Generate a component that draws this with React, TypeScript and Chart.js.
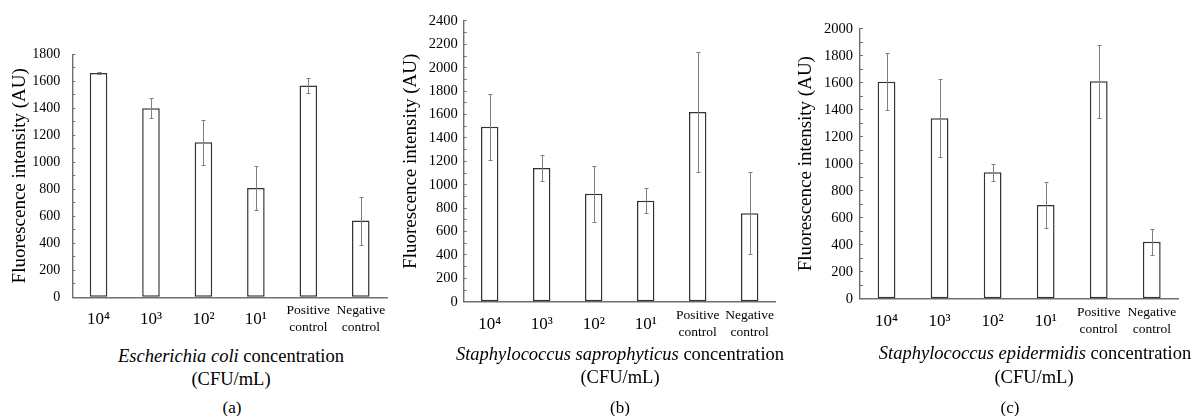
import React, { useEffect, useRef } from 'react';
import { Chart, registerables } from 'chart.js';

Chart.register(...registerables);

// ---------- data ----------
const categories: (string | string[])[] = ['10⁴', '10³', '10²', '10¹', ['Positive', 'control'], ['Negative', 'control']];

const ecoliValues = [1662, 1400, 1148, 810, 1568, 568];
const ecoliErrors = [8, 75, 168, 163, 53, 177];

const saproValues = [1496, 1142, 923, 863, 1621, 755];
const saproErrors = [282, 112, 241, 108, 511, 350];

const epiValues = [1607, 1336, 936, 694, 1610, 422];
const epiErrors = [211, 288, 64, 168, 269, 98];

const yMaxA = 1800;
const yMaxB = 2400;
const yMaxC = 2000;
const yTickStep = 100;
const yLabelStep = 200;

const yTitle = 'Fluorescence intensity (AU)';

const FONT = "'Liberation Serif', 'DejaVu Serif', 'Times New Roman', serif";

// ---------- plugins ----------
const errorBarPlugin = {
  id: 'errorBars',
  afterDatasetsDraw(chart: any, _args: any, opts: any) {
    const errs: number[] = opts.errors || [];
    const ctx = chart.ctx;
    const y = chart.scales.y;
    const meta = chart.getDatasetMeta(0);
    const vals = chart.data.datasets[0].data as number[];
    ctx.save();
    ctx.strokeStyle = opts.color || '#8a8a8a';
    ctx.lineWidth = 1;
    meta.data.forEach((bar: any, i: number) => {
      const x = Math.round(bar.x) + 0.5;
      const top = Math.round(y.getPixelForValue(vals[i] + errs[i])) + 0.5;
      const bot = Math.round(y.getPixelForValue(vals[i] - errs[i])) + 0.5;
      ctx.beginPath();
      ctx.moveTo(x, top);
      ctx.lineTo(x, bot);
      ctx.moveTo(x - 2, top);
      ctx.lineTo(x + 2, top);
      ctx.moveTo(x - 2, bot);
      ctx.lineTo(x + 2, bot);
      ctx.stroke();
    });
    ctx.restore();
  },
};

interface PanelProps {
  left: number;
  width: number;
  height: number;
  padTop: number;
  padRight: number;
  yAxisWidth: number;
  xAxisHeight: number;
  yMax: number;
  values: number[];
  errors: number[];
  titlePad: number;
  tickGap: number;
  tickSize: number;
}

function Panel(p: PanelProps) {
  const ref = useRef<HTMLCanvasElement | null>(null);
  useEffect(() => {
    if (!ref.current) return;
    const chart = new Chart(ref.current, {
      type: 'bar',
      data: {
        labels: categories as any,
        datasets: [
          {
            data: p.values,
            backgroundColor: '#ffffff',
            borderColor: '#333333',
            borderWidth: 1.5,
            borderSkipped: false,
            barPercentage: 0.335,
            categoryPercentage: 1,
          },
        ],
      },
      options: {
        responsive: false,
        animation: false,
        devicePixelRatio: 1,
        layout: { padding: { top: p.padTop, right: p.padRight, left: 0, bottom: 0 } },
        plugins: {
          legend: { display: false },
          tooltip: { enabled: false },
          errorBars: { errors: p.errors, color: '#7f7f7f' },
        } as any,
        scales: {
          x: {
            grid: { display: false, drawTicks: false },
            border: { display: true, color: '#707070', width: 1.4 },
            ticks: {
              color: '#000',
              autoSkip: false,
              maxRotation: 0,
              minRotation: 0,
              padding: 5,
              font: ((c: any) =>
                c.index < 4
                  ? { family: FONT, size: 17, lineHeight: '35px' }
                  : { family: FONT, size: 13.5, lineHeight: '17px' }) as any,
            },
            afterFit: (s: any) => {
              s.height = p.xAxisHeight;
            },
          },
          y: {
            min: 0,
            max: p.yMax,
            grid: {
              display: true,
              drawOnChartArea: false,
              drawTicks: true,
              tickLength: -3,
              color: '#707070',
              lineWidth: 1,
            },
            border: { display: true, color: '#707070', width: 1.4 },
            ticks: {
              stepSize: yTickStep,
              autoSkip: false,
              color: '#000',
              padding: p.tickGap + 3,
              font: { family: FONT, size: p.tickSize },
              callback: (v: any) => (Number(v) % yLabelStep === 0 ? String(v) : ''),
            },
            title: {
              display: true,
              text: yTitle,
              color: '#000',
              font: { family: FONT, size: 19 },
              padding: { top: p.titlePad, bottom: 0 },
            },
            afterFit: (s: any) => {
              s.width = p.yAxisWidth;
            },
          },
        },
      },
      plugins: [errorBarPlugin as any],
    });
    return () => chart.destroy();
  }, []);
  return (
    <canvas
      ref={ref}
      width={p.width}
      height={p.height}
      style={{ position: 'absolute', left: p.left, top: 0, width: p.width, height: p.height }}
    />
  );
}

function Caption(props: { cx: number; baseline: number; size: number; children: React.ReactNode }) {
  const top = props.baseline - 0.8375 * props.size;
  return (
    <div
      style={{
        position: 'absolute',
        left: props.cx - 300,
        width: 600,
        top,
        textAlign: 'center',
        fontFamily: FONT,
        fontSize: props.size,
        lineHeight: 1,
        color: '#000',
        whiteSpace: 'nowrap',
      }}
    >
      {props.children}
    </div>
  );
}

export default function App() {
  return (
    <div style={{ position: 'absolute', left: 0, top: 0, width: 1198, height: 416, background: '#fff', overflow: 'hidden' }}>
      <Panel left={0} width={395} height={345} padTop={54.3} padRight={8} yAxisWidth={72.3} xAxisHeight={47.7}
        yMax={yMaxA} values={ecoliValues} errors={ecoliErrors} titlePad={8.6} tickGap={12} tickSize={14} />
      <Panel left={395} width={395} height={345} padTop={20.9} padRight={14.3} yAxisWidth={68.7} xAxisHeight={43.3}
        yMax={yMaxB} values={saproValues} errors={saproErrors} titlePad={4.6} tickGap={6} tickSize={14.5} />
      <Panel left={790} width={408} height={345} padTop={28.7} padRight={19.7} yAxisWidth={70} xAxisHeight={46.3}
        yMax={yMaxC} values={epiValues} errors={epiErrors} titlePad={4.6} tickGap={7} tickSize={14.5} />

      <Caption cx={231} baseline={362} size={18.5}><i>Escherichia coli</i> concentration</Caption>
      <Caption cx={231} baseline={385} size={18.5}>(CFU/mL)</Caption>
      <Caption cx={232} baseline={413} size={17}>(a)</Caption>

      <Caption cx={620} baseline={360} size={18.5}><i>Staphylococcus saprophyticus</i> concentration</Caption>
      <Caption cx={620} baseline={383} size={18.5}>(CFU/mL)</Caption>
      <Caption cx={620} baseline={413} size={17}>(b)</Caption>

      <Caption cx={1035} baseline={359.5} size={18.5}><i>Staphylococcus epidermidis</i> concentration</Caption>
      <Caption cx={1034} baseline={383} size={18.5}>(CFU/mL)</Caption>
      <Caption cx={1010} baseline={413} size={17}>(c)</Caption>
    </div>
  );
}
